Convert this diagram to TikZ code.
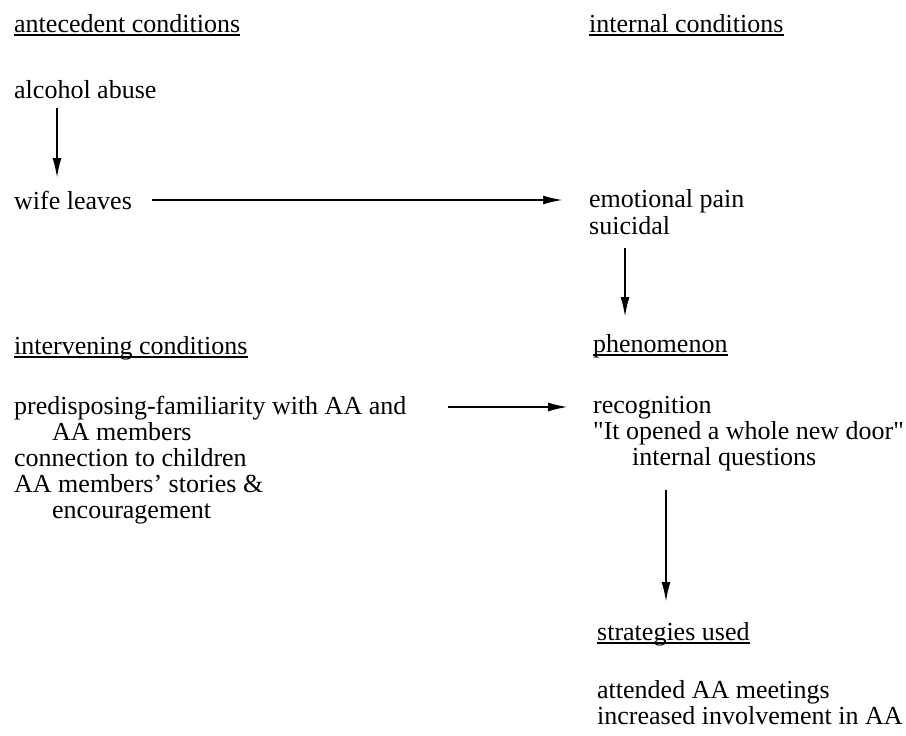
\documentclass[tikz,border=0pt]{standalone}
\usepackage{fontspec}
\setmainfont{Liberation Serif}
\usetikzlibrary{arrows.meta}
\begin{document}
\begin{tikzpicture}[x=1pt,y=-1pt,
  txt/.style={anchor=base west,inner sep=0pt,font=\fontsize{26}{26}\selectfont},
  hd/.style={txt},
  uline/.style={line width=2pt},
  arr/.style={line width=2pt,-{Latex[length=20pt,width=9pt]}}]
\useasboundingbox (0,0) rectangle (906,736);
% left column
\node[hd] (ante) at (14,32) {antecedent conditions};
\node[txt] (alc) at (14,98) {alcohol abuse};
\node[txt] (wife) at (14,209) {wife leaves};
\node[hd] (inter) at (14,354) {intervening conditions};
\node[txt] (pre1) at (14,414) {predisposing-familiarity with AA and};
\node[txt] (pre2) at (52,440) {AA members};
\node[txt] (conn) at (14,466) {connection to children};
\node[txt] (sto1) at (14,492) {AA members' stories \&};
\node[txt] (sto2) at (52,518) {encouragement};
% right column
\node[hd] (intc) at (589,32) {internal conditions};
\node[txt] (emo) at (589,207) {emotional pain};
\node[txt] (sui) at (589,234) {suicidal};
\node[hd] (phen) at (593,352) {phenomenon};
\node[txt] (rec) at (593,413) {recognition};
\node[txt] (door) at (593,439) {\textquotedbl It opened a whole new door\textquotedbl};
\node[txt] (iq) at (632,465) {internal questions};
\node[hd] (strat) at (597,640) {strategies used};
\node[txt] (att) at (597,698) {attended AA meetings};
\node[txt] (inc) at (597,724) {increased involvement in AA};
% underlines
\foreach \n in {ante,intc,inter,phen,strat}{
  \draw[uline] ([yshift=-3pt]\n.base west) -- ([yshift=-3pt]\n.base east);
}
% arrows
\draw[arr] ([xshift=43pt,yshift=-10pt]alc.base west) -- ([xshift=43pt,yshift=31pt]wife.base west);
\draw[arr] ([xshift=20pt,yshift=9pt]wife.base east) -- ([xshift=-26pt,yshift=7pt]emo.base west);
\draw[arr] ([xshift=36pt,yshift=-14pt]sui.base west) -- ([xshift=32pt,yshift=35pt]phen.base west);
\draw[arr] ([xshift=434pt,yshift=7pt]pre1.base west) -- ([xshift=-25pt,yshift=6pt]rec.base west);
\draw[arr] ([xshift=34pt,yshift=-25pt]iq.base west) -- ([xshift=69pt,yshift=38pt]strat.base west);
\end{tikzpicture}
\end{document}
